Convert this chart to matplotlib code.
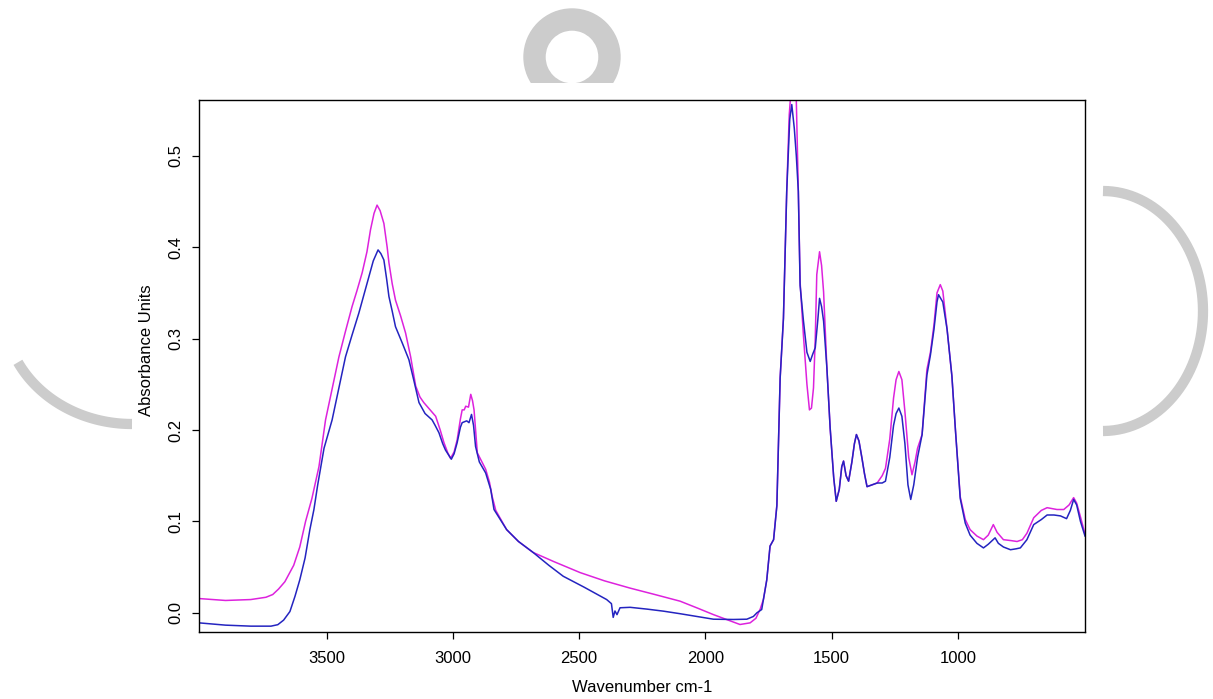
import numpy as np
import matplotlib
matplotlib.use('Agg')
import matplotlib.pyplot as plt
from matplotlib.lines import Line2D
from matplotlib.patches import Annulus, Rectangle
from matplotlib.transforms import Affine2D

plt.rcParams['font.family'] = ['Liberation Sans', 'DejaVu Sans']

#%%
# spectra (wavenumber, absorbance)
wn_magenta = [4005, 3900, 3800, 3740, 3713, 3690, 3665, 3630, 3606, 3583, 3558, 3530,
              3504, 3478, 3451, 3425, 3399, 3380, 3359, 3340, 3326, 3312, 3300, 3288,
              3273, 3260, 3253, 3240, 3227, 3207, 3187, 3167, 3147, 3130, 3115, 3090,
              3068, 3050, 3035, 3020, 3009, 2995, 2983, 2970, 2963, 2955, 2949, 2938,
              2929, 2922, 2916, 2910, 2903, 2890, 2870, 2855, 2844, 2830, 2787, 2740,
              2682, 2600, 2496, 2400, 2298, 2200, 2100, 2030, 1968, 1910, 1863, 1823,
              1800, 1783, 1770, 1757, 1744, 1730, 1717, 1704, 1691, 1678, 1668, 1660,
              1650, 1640, 1632, 1625, 1612, 1598, 1588, 1580, 1572, 1565, 1559, 1548,
              1540, 1532, 1519, 1506, 1492, 1482, 1470, 1460, 1453, 1443, 1433, 1420,
              1410, 1402, 1392, 1380, 1370, 1360, 1340, 1320, 1300, 1287, 1270, 1255,
              1245, 1234, 1222, 1210, 1195, 1182, 1170, 1160, 1142, 1123, 1109, 1095,
              1083, 1070, 1060, 1043, 1024, 1010, 991, 971, 952, 925, 899, 880,
              860, 845, 820, 790, 766, 745, 727, 700, 670, 647, 608, 581,
              560, 542, 530, 515, 497]
abs_magenta = [0.0156, 0.0135, 0.0145, 0.017, 0.020, 0.026, 0.034, 0.052, 0.072, 0.100, 0.125, 0.160,
               0.211, 0.245, 0.280, 0.308, 0.335, 0.352, 0.372, 0.395, 0.419, 0.437, 0.446, 0.440,
               0.426, 0.400, 0.383, 0.360, 0.342, 0.325, 0.306, 0.280, 0.248, 0.236, 0.230, 0.222,
               0.215, 0.200, 0.186, 0.175, 0.169, 0.176, 0.189, 0.212, 0.222, 0.222, 0.226, 0.225,
               0.239, 0.232, 0.222, 0.200, 0.175, 0.168, 0.157, 0.143, 0.127, 0.112, 0.091, 0.078,
               0.066, 0.056, 0.044, 0.035, 0.027, 0.020, 0.0127, 0.005, -0.002, -0.008, -0.0128, -0.011,
               -0.006, 0.004, 0.015, 0.036, 0.073, 0.080, 0.118, 0.257, 0.322, 0.461, 0.545, 0.575,
               0.580, 0.560, 0.461, 0.362, 0.304, 0.250, 0.222, 0.224, 0.246, 0.300, 0.370, 0.395,
               0.380, 0.351, 0.268, 0.202, 0.148, 0.122, 0.135, 0.160, 0.166, 0.150, 0.144, 0.165,
               0.185, 0.195, 0.188, 0.169, 0.152, 0.138, 0.140, 0.142, 0.150, 0.158, 0.190, 0.235,
               0.255, 0.264, 0.255, 0.220, 0.170, 0.151, 0.165, 0.180, 0.195, 0.266, 0.285, 0.315,
               0.350, 0.359, 0.352, 0.310, 0.259, 0.200, 0.127, 0.102, 0.091, 0.084, 0.080, 0.085,
               0.0965, 0.088, 0.080, 0.079, 0.078, 0.080, 0.087, 0.104, 0.112, 0.115, 0.113, 0.113,
               0.118, 0.126, 0.120, 0.105, 0.086]

wn_blue = [4005, 3900, 3800, 3720, 3693, 3670, 3645, 3625, 3606, 3585, 3566, 3550,
           3535, 3510, 3478, 3452, 3425, 3400, 3372, 3350, 3332, 3315, 3296, 3285,
           3273, 3262, 3253, 3240, 3227, 3200, 3174, 3155, 3134, 3110, 3082, 3070,
           3055, 3040, 3029, 3006, 2995, 2983, 2970, 2963, 2945, 2936, 2926, 2918,
           2910, 2895, 2870, 2850, 2837, 2787, 2740, 2682, 2620, 2563, 2480, 2391,
           2372, 2365, 2358, 2350, 2338, 2298, 2230, 2166, 2100, 2034, 1968, 1889,
           1836, 1810, 1796, 1777, 1757, 1744, 1730, 1717, 1704, 1691, 1678, 1666,
           1658, 1648, 1640, 1632, 1625, 1612, 1598, 1585, 1575, 1565, 1555, 1548,
           1540, 1532, 1519, 1506, 1492, 1482, 1470, 1460, 1453, 1443, 1433, 1420,
           1410, 1402, 1392, 1380, 1370, 1360, 1340, 1320, 1300, 1287, 1270, 1255,
           1245, 1234, 1222, 1210, 1198, 1187, 1175, 1160, 1142, 1123, 1109, 1095,
           1083, 1077, 1060, 1043, 1024, 1010, 991, 971, 952, 925, 899, 880,
           853, 840, 820, 792, 770, 753, 727, 700, 670, 647, 620, 594,
           570, 555, 542, 530, 515, 497]
abs_blue = [-0.011, -0.0135, -0.0146, -0.0146, -0.013, -0.008, 0.0014, 0.018, 0.036, 0.060, 0.091, 0.113,
            0.140, 0.180, 0.211, 0.245, 0.280, 0.303, 0.328, 0.350, 0.368, 0.385, 0.397, 0.393,
            0.386, 0.365, 0.346, 0.330, 0.313, 0.295, 0.277, 0.255, 0.230, 0.218, 0.211, 0.205,
            0.197, 0.185, 0.178, 0.168, 0.174, 0.186, 0.203, 0.208, 0.210, 0.208, 0.217, 0.205,
            0.182, 0.165, 0.153, 0.135, 0.113, 0.091, 0.078, 0.066, 0.052, 0.040, 0.028, 0.0145,
            0.010, -0.005, 0.002, -0.002, 0.0055, 0.006, 0.004, 0.0018, -0.001, -0.004, -0.007, -0.0073,
            -0.007, -0.004, 0.0, 0.0036, 0.036, 0.073, 0.080, 0.117, 0.257, 0.322, 0.461, 0.540,
            0.556, 0.530, 0.500, 0.461, 0.358, 0.320, 0.285, 0.275, 0.283, 0.290, 0.320, 0.344,
            0.335, 0.319, 0.268, 0.202, 0.148, 0.122, 0.135, 0.160, 0.166, 0.150, 0.144, 0.165,
            0.185, 0.195, 0.188, 0.169, 0.152, 0.138, 0.140, 0.142, 0.142, 0.144, 0.170, 0.205,
            0.218, 0.224, 0.215, 0.185, 0.140, 0.124, 0.140, 0.170, 0.195, 0.260, 0.282, 0.310,
            0.340, 0.348, 0.340, 0.310, 0.259, 0.200, 0.125, 0.098, 0.085, 0.076, 0.071, 0.075,
            0.082, 0.076, 0.072, 0.069, 0.070, 0.071, 0.080, 0.0965, 0.102, 0.107, 0.107, 0.106,
            0.103, 0.112, 0.124, 0.118, 0.100, 0.084]

x_ticks = [3500, 3000, 2500, 2000, 1500, 1000]
y_ticks = [0.0, 0.1, 0.2, 0.3, 0.4, 0.5]

#%%
W, H = 1213, 699
fig = plt.figure(figsize=(W / 100, H / 100), dpi=100)

# pixel coords (y down) -> figure
px = Affine2D().scale(1 / W, -1 / H).translate(0, 1) + fig.transFigure

# grey watermark behind the plot
wm = '#cccccc'
ring = Annulus((572, 57), 48, 21, color=wm, transform=px, zorder=0)
fig.add_artist(ring)
ring.set_clip_path(Rectangle((0, 0), W, 83, transform=px))

t = np.linspace(-np.pi / 2, np.pi / 2, 200)
fig.add_artist(Line2D(1103 + 100 * np.cos(t), 311 + 120 * np.sin(t), color=wm, lw=7.4,
                      solid_capstyle='butt', transform=px, zorder=0))
t = np.linspace(np.pi / 2, np.radians(153), 100)
fig.add_artist(Line2D(132 + 128 * np.cos(t), 311 + 113 * np.sin(t), color=wm, lw=7.4,
                      solid_capstyle='butt', transform=px, zorder=0))

ax = fig.add_axes([199 / W, 1 - 632 / H, (1085 - 199) / W, (632 - 100) / H])
ax.plot(wn_magenta, abs_magenta, color='#dd22dd', lw=1.1)
ax.plot(wn_blue, abs_blue, color='#2424c0', lw=1.1)

ax.set_xlim(4005, 497)
ax.set_ylim(-0.021, 0.561)
ax.set_xticks(x_ticks)
ax.set_yticks(y_ticks)
ax.set_yticklabels([f'{v:.1f}' for v in y_ticks], rotation=90, va='center')
ax.tick_params(direction='out', length=5, width=0.9, labelsize=12, colors='black')
ax.tick_params(axis='x', pad=9)
ax.tick_params(axis='y', pad=6)
for s in ax.spines.values():
    s.set_linewidth(1.0)

ax.set_xlabel('Wavenumber cm-1', fontsize=12, va='center')
ax.xaxis.set_label_coords(0.5, -0.105)
ax.set_ylabel('Absorbance Units', fontsize=12, va='center')
ax.yaxis.set_label_coords(-0.059, 0.53)

fig.savefig('out.png', dpi=100)
